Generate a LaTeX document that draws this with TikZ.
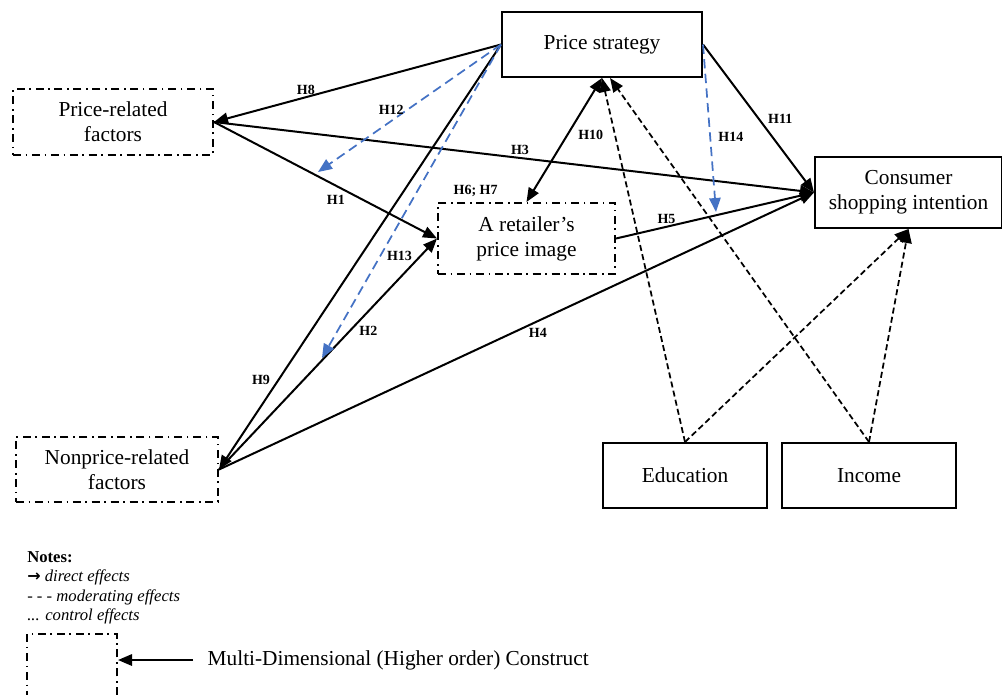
\documentclass[tikz,border=0pt]{standalone}
\usepackage{fontspec}
\setmainfont{Liberation Serif}
\newfontfamily\arrowfont{DejaVu Sans}
\usetikzlibrary{arrows.meta,positioning}
\definecolor{modblue}{RGB}{68,114,196}

\begin{document}
\begin{tikzpicture}[x=0.75pt,y=-0.75pt,>={Triangle[length=10.5pt,width=8.5pt]},
    every node/.style={font=\fontsize{16}{18.75}\selectfont, align=center},
    solidbox/.style={draw, line width=1.5pt, minimum height=48.75pt, inner sep=2pt},
    dimbox/.style={draw, line width=1.5pt, dash pattern=on 6pt off 3.5pt on 1.2pt off 3.5pt, minimum height=49.5pt, inner sep=2pt},
    hyp/.style={font=\bfseries\fontsize{10.5}{12}\selectfont, inner sep=1.5pt},
    direct/.style={line width=1.5pt, ->},
    moder/.style={modblue, line width=1.3pt, dash pattern=on 7pt off 4pt, ->},
    contr/.style={line width=1.3pt, dash pattern=on 4.5pt off 2.5pt, ->}]

  \useasboundingbox (0,0) rectangle (1002,694);

  % constructs
  \node[solidbox, minimum width=150pt] (price) at (602,44.5) {Price strategy};
  \node[dimbox, minimum width=150pt] (prf) at (113,122) {Price-related\\factors};
  \node[dimbox, minimum width=132.75pt, minimum height=53.25pt] (img) at (526.5,238.5) {A retailer’s\\price image};
  \node[solidbox, minimum width=140.25pt, minimum height=53.25pt] (csi) at (908.5,192.5) {Consumer\\shopping intention};
  \node[dimbox, minimum width=151.5pt, minimum height=48.75pt] (nprf) at (117,469.5) {Nonprice-related\\factors};
  \node[solidbox, minimum width=123pt] (edu) at (685,475.5) {Education};
  \node[solidbox, minimum width=130.5pt] (inc) at (869,475.5) {Income};

  \coordinate (m12) at (318,172);
  \coordinate (m13) at (322,358);
  \coordinate (m14) at (716,212);

  % direct effects
  \draw[direct] (price.west) -- node[hyp, pos=0.68, above] {H8} (prf.east);
  \draw[direct] (prf.east) -- node[hyp, pos=0.6, below left] {H1} (img.west);
  \draw[direct] (prf.east) -- node[hyp, pos=0.51, above] {H3} (csi.west);
  \draw[direct] (price.west) -- node[hyp, pos=0.79, left=4pt] {H9} (nprf.east);
  \draw[direct] (nprf.east) -- node[hyp, pos=0.6, right=5pt] {H2} (img.west);
  \draw[direct] (nprf.east) -- node[hyp, pos=0.536, below=3pt] {H4} (csi.west);
  \draw[direct] (img.east) -- node[hyp, pos=0.255, above] {H5} (csi.west);
  \draw[direct] (price.east) -- node[hyp, pos=0.5, right=5pt] {H11} (csi.west);
  \draw[direct, <->] (price.south) -- node[hyp, pos=0.46, right=6pt] {H10} (img.north);
  \node[hyp, above left=2pt and 20pt of img.north] (h67) {H6; H7};

  % moderating effects
  \draw[moder] (price.west) -- node[hyp, pos=0.6, above=3pt, black] {H12} (m12);
  \draw[moder] (price.west) -- node[hyp, pos=0.675, right=3pt, black] {H13} (m13);
  \draw[moder] (price.east) -- node[hyp, pos=0.55, right=4pt, black] {H14} (m14);

  % control effects
  \draw[contr] (edu.north) -- (price.south);
  \draw[contr] (inc.north) -- ([xshift=6pt]price.south);
  \draw[contr] (edu.north) -- (csi.south);
  \draw[contr] (inc.north) -- (csi.south);

  % notes
  \node[anchor=north west, align=left, inner sep=0, font=\fontsize{12.5}{14.6}\selectfont] (notes) at (27,551)
    {\textbf{Notes:}\\{\arrowfont\bfseries\fontsize{12}{12}\selectfont →} \textit{direct effects}\\\textit{- - - moderating effects}\\\textit{... control effects}};
  \node[dimbox, minimum width=67.5pt, minimum height=49.5pt] (legbox) at (72,667) {};
  \node[anchor=west] (mdc) at (203,660) {Multi-Dimensional (Higher order) Construct};
  \draw[direct] ([xshift=-7.5pt]mdc.west) -- (legbox.east |- mdc.west);
\end{tikzpicture}
\end{document}
